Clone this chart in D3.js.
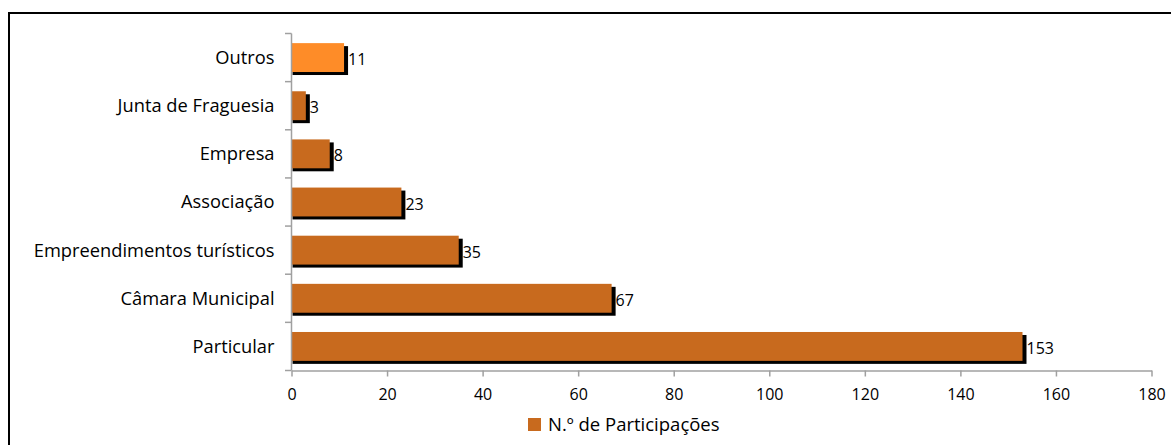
<!DOCTYPE html>
<html><head><meta charset="utf-8">
<script src="https://cdn.jsdelivr.net/npm/d3@7"></script>
<style>body{margin:0;background:#fff;} svg{display:block;} text{font-family:"Open Sans",sans-serif;}</style>
</head><body>
<svg id="c" width="1171" height="445"></svg>
<script>
const categories = ["Outros","Junta de Fraguesia","Empresa","Associação","Empreendimentos turísticos","Câmara Municipal","Particular"];
const values = [11,3,8,23,35,67,153];
const highlight = ["Outros"];
const xTicks = [0,20,40,60,80,100,120,140,160,180];
const seriesName = "N.º de Participações";
const FONT = "'Open Sans',sans-serif";

const svg = d3.select("#c");
svg.append("line").attr("x1",8).attr("x2",1171).attr("y1",13).attr("y2",13).attr("stroke","#000").attr("stroke-width",2);
svg.append("line").attr("x1",9).attr("x2",9).attr("y1",12).attr("y2",445).attr("stroke","#000").attr("stroke-width",2);

const x = d3.scaleLinear().domain([0,180]).range([291.5,1151.5]);
const y = d3.scaleBand().domain(categories).range([33.5,370.5]).paddingInner(0.4).paddingOuter(0.2);
const step = y.step();

const g = svg.append("g");
g.selectAll("rect.s").data(categories).join("rect").attr("class","s")
  .attr("x",x(0)+1).attr("y",d=>y(d)+3)
  .attr("width",(d,i)=>x(values[i])-x(0)+3).attr("height",y.bandwidth()).attr("fill","#000");
g.selectAll("rect.b").data(categories).join("rect").attr("class","b")
  .attr("x",x(0)).attr("y",d=>y(d))
  .attr("width",(d,i)=>x(values[i])-x(0)).attr("height",y.bandwidth())
  .attr("fill",d=>highlight.includes(d)?"#fe8c28":"#c86a1e");
g.selectAll("text.v").data(categories).join("text").attr("class","v")
  .attr("x",(d,i)=>x(values[i])+4).attr("y",d=>y(d)+y.bandwidth()/2+2)
  .attr("dy","0.35em").attr("font-size",16).attr("fill","#000").text((d,i)=>values[i]);

const axisColor = "#a0a0a0";
const xa = svg.append("g").attr("transform","translate(0,370.5)")
  .call(d3.axisBottom(x).tickValues(xTicks).tickSize(6).tickPadding(12).tickSizeOuter(0));
const ya = svg.append("g").attr("transform","translate(291.5,0)")
  .call(d3.axisLeft(y).tickSize(0).tickPadding(17).tickSizeOuter(0));
[xa,ya].forEach(a=>{a.selectAll("path,line").attr("stroke",axisColor).attr("stroke-width",1.5);
  a.selectAll("text").attr("fill","#000").attr("font-family",FONT);});
xa.selectAll("text").attr("font-size",16);
ya.selectAll("text").attr("font-size",18.3).attr("dy","0.35em");
const bounds = d3.range(categories.length+1).map(i=>33.5+i*step);
svg.append("g").selectAll("line").data(bounds).join("line")
  .attr("x1",285).attr("x2",291.5).attr("y1",d=>d).attr("y2",d=>d)
  .attr("stroke",axisColor).attr("stroke-width",1.5);
ya.select("path").attr("d","M0,33.5V370.5");

svg.append("rect").attr("x",528).attr("y",418).attr("width",13).attr("height",13).attr("fill","#c86a1e");
svg.append("text").attr("x",548).attr("y",431).attr("font-size",18.5).attr("fill","#000").text(seriesName);
</script>
</body></html>
